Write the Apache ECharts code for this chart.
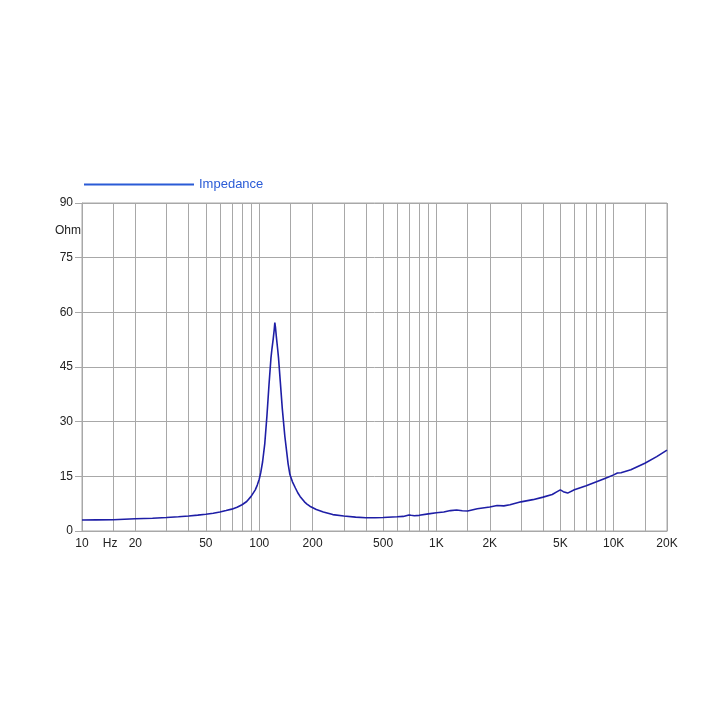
<!DOCTYPE html>
<html>
<head>
<meta charset="utf-8">
<script src="https://cdn.jsdelivr.net/npm/echarts@6/dist/echarts.min.js"></script>
<style>html,body{margin:0;padding:0;background:#fff}#c{width:728px;height:728px}</style>
</head>
<body>
<div id="c"></div>
<script>
// Frequencies (Hz) and impedance (Ohm)
var freqs = [10, 12, 15, 20, 25, 30, 35, 40, 45, 50, 55, 60, 65, 70, 75, 80, 85, 90, 95, 97.5,
  100, 102, 104.5, 107.5, 110.5, 113.5, 116.5, 118, 120, 121.5, 122.5, 123.5, 125, 127, 128.5,
  131.5, 135, 139.5, 145.5, 149, 154, 160, 165, 170, 180, 186, 193, 210, 230, 260, 300, 350,
  400, 450, 500, 600, 650, 700, 720, 750, 800, 900, 1000, 1100, 1200, 1300, 1400, 1500, 1700,
  2000, 2200, 2400, 2600, 3000, 3500, 4000, 4500, 4800, 5000, 5200, 5500, 6000, 7000, 8000,
  9000, 10000, 10500, 11000, 12500, 15000, 17500, 20000];
var ohms = [3.0, 3.05, 3.1, 3.35, 3.5, 3.7, 3.9, 4.1, 4.35, 4.6, 4.85, 5.2, 5.6, 6.0, 6.5, 7.2,
  8.1, 9.5, 11.3, 12.6, 14.2, 16.0, 19.0, 24.0, 31.5, 40.0, 47.5, 50.0, 52.8, 55.2, 57.2, 55.9,
  53.2, 50.0, 47.5, 41.0, 33.5, 26.0, 18.5, 15.5, 13.5, 11.8, 10.5, 9.5, 8.0, 7.4, 6.8, 5.9,
  5.2, 4.5, 4.1, 3.8, 3.65, 3.65, 3.7, 3.9, 4.0, 4.4, 4.3, 4.2, 4.3, 4.7, 5.0, 5.2, 5.6, 5.75,
  5.55, 5.5, 6.1, 6.6, 7.0, 6.9, 7.2, 8.0, 8.6, 9.3, 10.0, 10.8, 11.3, 10.8, 10.4, 11.3, 12.4,
  13.5, 14.5, 15.4, 15.9, 16.0, 16.8, 18.6, 20.4, 22.2];
var seriesName = 'Impedance';
var xGridValues = [10, 15, 20, 30, 40, 50, 60, 70, 80, 90, 100, 150, 200, 300, 400, 500, 600,
  700, 800, 900, 1000, 1500, 2000, 3000, 4000, 5000, 6000, 7000, 8000, 9000, 10000, 15000, 20000];
var xLabelValues = [10, 14.4, 20, 50, 100, 200, 500, 1000, 2000, 5000, 10000, 20000];
var xLabelText = {'10':'10', '14.4':'Hz', '20':'20', '50':'50', '100':'100', '200':'200',
  '500':'500', '1000':'1K', '2000':'2K', '5000':'5K', '10000':'10K', '20000':'20K'};
var yMin = 0, yMax = 90, yStep = 15, yUnit = 'Ohm';

var data = freqs.map(function (f, i) { return [f, ohms[i]]; });
var gridColor = '#a8a8a8';
var font = 'Liberation Sans, Arial, Helvetica, sans-serif';

var chart = echarts.init(document.getElementById('c'), null, {renderer: 'canvas'});
chart.setOption({
  animation: false,
  backgroundColor: '#fff',
  textStyle: {fontFamily: font},
  legend: {
    left: 79, top: 173,
    itemWidth: 110, itemHeight: 14, itemGap: 5,
    textStyle: {color: '#2a5bd6', fontSize: 13, fontFamily: font},
    data: [{name: seriesName, icon: 'path://M0,6L110,6L110,8L0,8Z', itemStyle: {color: '#2a5bd6', borderWidth: 0}}]
  },
  grid: {left: 82, right: 61, top: 203, bottom: 197, show: true, borderColor: gridColor, borderWidth: 1, backgroundColor: '#fff'},
  xAxis: {
    type: 'log', logBase: 10, min: 10, max: 20000,
    axisLine: {show: true, lineStyle: {color: gridColor, width: 1}},
    axisTick: {show: false, customValues: xGridValues},
    splitLine: {show: true, lineStyle: {color: gridColor, width: 1}},
    minorTick: {show: false}, minorSplitLine: {show: false},
    axisLabel: {
      customValues: xLabelValues, margin: 7, color: '#222', fontSize: 12, fontFamily: font,
      formatter: function (v) {
        var k = String(Math.round(v * 10) / 10);
        return xLabelText[k] !== undefined ? xLabelText[k] : '';
      }
    }
  },
  yAxis: {
    type: 'value', min: yMin, max: yMax, interval: yStep,
    name: yUnit, nameLocation: 'end', nameGap: -28,
    nameTextStyle: {color: '#222', fontSize: 12, fontFamily: font, align: 'right', verticalAlign: 'middle', padding: [0, 1, 0, 0]},
    axisLine: {show: true, lineStyle: {color: gridColor, width: 1}},
    axisTick: {show: true, length: 7, lineStyle: {color: gridColor}},
    splitLine: {show: true, lineStyle: {color: gridColor, width: 1}},
    axisLabel: {margin: 9, color: '#222', fontSize: 12, fontFamily: font}
  },
  series: [{
    name: seriesName, type: 'line', data: data,
    showSymbol: false, symbol: 'none', smooth: false,
    lineStyle: {color: '#1e1ea6', width: 1.6},
    itemStyle: {color: '#1e1ea6'}
  }]
});
</script>
</body>
</html>
